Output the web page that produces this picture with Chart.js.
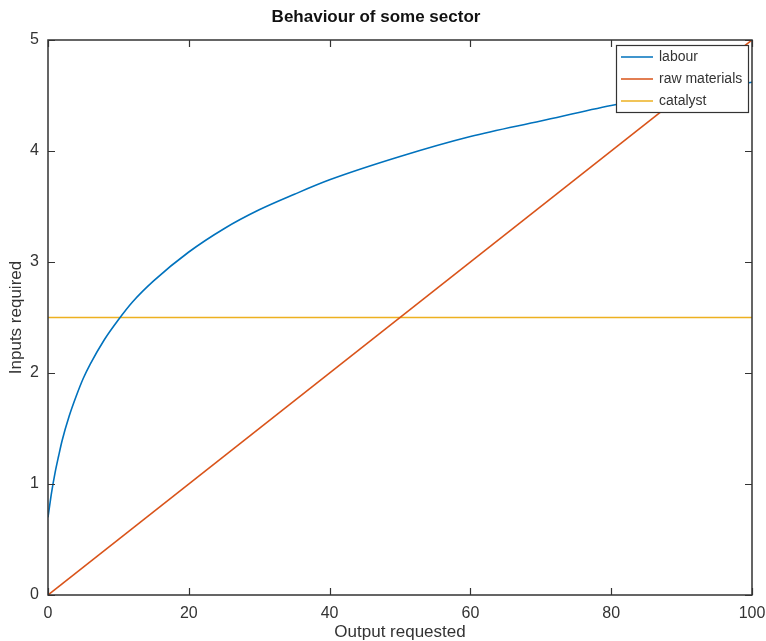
<!DOCTYPE html>
<html>
<head>
<meta charset="utf-8">
<script src="https://cdn.jsdelivr.net/npm/chart.js@4/dist/chart.umd.min.js"></script>
<style>
  html, body { margin: 0; padding: 0; background: #fff; }
  #wrap { width: 766px; height: 641px; }
</style>
</head>
<body>
<div id="wrap"><canvas id="sectorChart" width="766" height="641"></canvas></div>
<script>
// ==== DATA ====
const labourX = [0, 0.5, 1, 1.5, 2, 3, 4, 5, 6, 8, 10, 12, 15, 20, 25, 30, 35, 40, 50, 60, 70, 80, 90, 100];
const labourY = [0.70, 0.92, 1.10, 1.25, 1.39, 1.61, 1.79, 1.95, 2.08, 2.30, 2.48, 2.64, 2.83, 3.09, 3.30, 3.47, 3.61, 3.74, 3.95, 4.13, 4.27, 4.41, 4.52, 4.62];
const rawX = [0, 100];
const rawY = [0, 5];
const catalystX = [0, 100];
const catalystY = [2.5, 2.5];
const xTicks = [0, 20, 40, 60, 80, 100];
const yTicks = [0, 1, 2, 3, 4, 5];

const FONT = "'Liberation Sans', Arial, sans-serif";
const AXIS = '#333333';

const toPoints = (xs, ys) => xs.map((x, i) => ({ x: x, y: ys[i] }));

// box, inward ticks and legend drawn MATLAB style
const matlabBox = {
  id: 'matlabBox',
  afterDatasetsDraw(chart) {
    const { ctx, chartArea: a, scales } = chart;
    ctx.save();
    ctx.strokeStyle = AXIS;
    ctx.lineWidth = 1.5;
    ctx.strokeRect(a.left, a.top, a.right - a.left, a.bottom - a.top);

    const tick = 7;
    ctx.lineWidth = 1.2;
    ctx.beginPath();
    xTicks.forEach(v => {
      const px = Math.round(scales.x.getPixelForValue(v)) + 0.5;
      ctx.moveTo(px, a.bottom); ctx.lineTo(px, a.bottom - tick);
      ctx.moveTo(px, a.top); ctx.lineTo(px, a.top + tick);
    });
    yTicks.forEach(v => {
      const py = Math.round(scales.y.getPixelForValue(v)) + 0.5;
      ctx.moveTo(a.left, py); ctx.lineTo(a.left + tick, py);
      ctx.moveTo(a.right, py); ctx.lineTo(a.right - tick, py);
    });
    ctx.stroke();

    // legend
    const lw = 132, lh = 67;
    const lx = a.right - lw - 4, ly = a.top + 5;
    ctx.fillStyle = '#fff';
    ctx.fillRect(lx, ly, lw, lh);
    ctx.strokeStyle = AXIS;
    ctx.lineWidth = 1.2;
    ctx.strokeRect(lx + 0.5, ly + 0.5, lw, lh);
    ctx.font = '14px ' + FONT;
    ctx.textBaseline = 'middle';
    chart.data.datasets.forEach((ds, i) => {
      const ry = ly + 12 + i * 22;
      ctx.strokeStyle = ds.borderColor;
      ctx.lineWidth = 1.5;
      ctx.beginPath();
      ctx.moveTo(lx + 5, ry); ctx.lineTo(lx + 37, ry);
      ctx.stroke();
      ctx.fillStyle = AXIS;
      ctx.fillText(ds.label, lx + 43, ry);
    });
    ctx.restore();
  }
};

new Chart(document.getElementById('sectorChart').getContext('2d'), {
  type: 'line',
  data: {
    datasets: [
      { label: 'labour', data: toPoints(labourX, labourY), borderColor: '#0072BD', cubicInterpolationMode: 'monotone' },
      { label: 'raw materials', data: toPoints(rawX, rawY), borderColor: '#D95319' },
      { label: 'catalyst', data: toPoints(catalystX, catalystY), borderColor: '#EDB120' }
    ]
  },
  options: {
    responsive: false,
    animation: false,
    layout: { padding: { left: 0, right: 14, top: 0, bottom: 0 } },
    elements: {
      point: { radius: 0 },
      line: { borderWidth: 1.6, tension: 0 }
    },
    plugins: {
      legend: { display: false },
      tooltip: { enabled: false },
      title: {
        display: true,
        text: 'Behaviour of some sector',
        color: '#111',
        font: { family: FONT, size: 17, weight: 'bold', lineHeight: 1.2 },
        padding: { top: 7, bottom: 12.6 }
      }
    },
    scales: {
      x: {
        type: 'linear',
        min: 0, max: 100,
        afterBuildTicks: s => { s.ticks = xTicks.map(v => ({ value: v })); },
        afterFit: s => { s.height = 46; s.paddingLeft = 0; s.paddingRight = 0; },
        grid: { display: false, drawTicks: false },
        border: { display: false },
        ticks: { color: AXIS, padding: 9, font: { family: FONT, size: 16 } },
        title: {
          display: true, text: 'Output requested', color: AXIS,
          font: { family: FONT, size: 17, lineHeight: 1 }, padding: { top: 0, bottom: 0.5 }
        }
      },
      y: {
        min: 0, max: 5,
        afterBuildTicks: s => { s.ticks = yTicks.map(v => ({ value: v })); },
        afterFit: s => { s.width = 48; s.paddingTop = 0; s.paddingBottom = 0; },
        grid: { display: false, drawTicks: false },
        border: { display: false },
        ticks: { color: AXIS, padding: 9, font: { family: FONT, size: 16 } },
        title: {
          display: true, text: 'Inputs required', color: AXIS,
          font: { family: FONT, size: 17, lineHeight: 1 }, padding: { top: 8, bottom: 0 }
        }
      }
    }
  },
  plugins: [matlabBox]
});
</script>
</body>
</html>
